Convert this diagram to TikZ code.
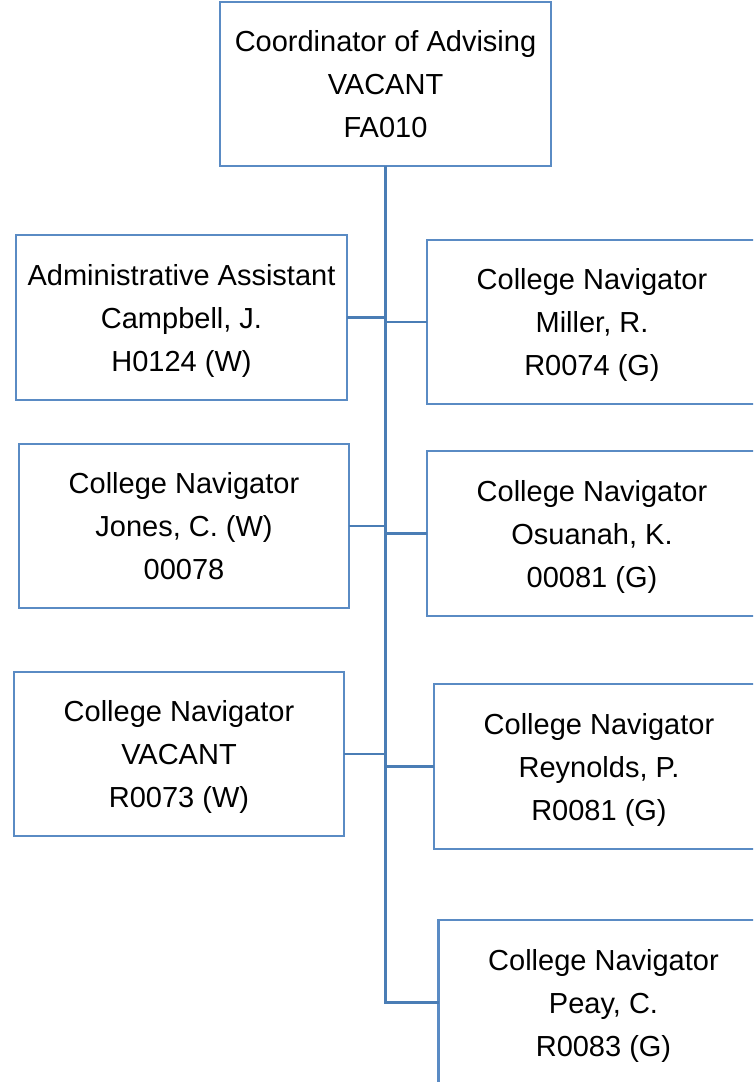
\documentclass[tikz,border=0pt]{standalone}
\usepackage{fontspec}
\setmainfont{Liberation Sans}
\definecolor{boxblue}{HTML}{5A8BC4}
\definecolor{lineblue}{HTML}{4A7DB5}
\begin{document}
\begin{tikzpicture}[x=1pt,y=-1pt,
  orgbox/.style={draw=boxblue, line width=2.6pt, rectangle, fill=white,
    minimum width=330pt, minimum height=164pt, inner sep=0pt, outer sep=0pt,
    align=center, text depth=0pt, font=\fontsize{29}{43}\selectfont},
  link/.style={draw=lineblue, line width=2.8pt}]
\useasboundingbox (0,0) rectangle (753,1082);
\clip (0,0) rectangle (753,1082);
\fill[white] (0,0) rectangle (753,1082);

\node[orgbox, minimum width=331pt] (top) at (385.5,84) {Coordinator of Advising\\VACANT\\FA010};
\node[orgbox, minimum width=331pt, minimum height=165pt] (admin) at (181.5,317.5) {Administrative Assistant\\Campbell, J.\\H0124 (W)};
\node[orgbox] (jones) at (184,526) {College Navigator\\Jones, C. (W)\\00078};
\node[orgbox] (vacl) at (179,754) {College Navigator\\VACANT\\R0073 (W)};
\node[orgbox] (miller) at (592,322) {College Navigator\\Miller, R.\\R0074 (G)};
\node[orgbox, minimum height=165pt] (osu) at (592,533.5) {College Navigator\\Osuanah, K.\\00081 (G)};
\node[orgbox, minimum height=165pt] (rey) at (599,766.5) {College Navigator\\Reynolds, P.\\R0081 (G)};
\node[orgbox, minimum height=165pt] (peay) at (603.5,1002.5) {College Navigator\\Peay, C.\\R0083 (G)};

\coordinate (trunkend) at (top.south |- peay.west);
\draw[link] (top.south) -- (trunkend) -- (peay.west);
\draw[link] (admin.east) -- (admin.east -| top.south);
\draw[link] (jones.east) -- (jones.east -| top.south);
\draw[link] (vacl.east) -- (vacl.east -| top.south);
\draw[link] (miller.west) -- (miller.west -| top.south);
\draw[link] (osu.west) -- (osu.west -| top.south);
\draw[link] (rey.west) -- (rey.west -| top.south);
\end{tikzpicture}
\end{document}
